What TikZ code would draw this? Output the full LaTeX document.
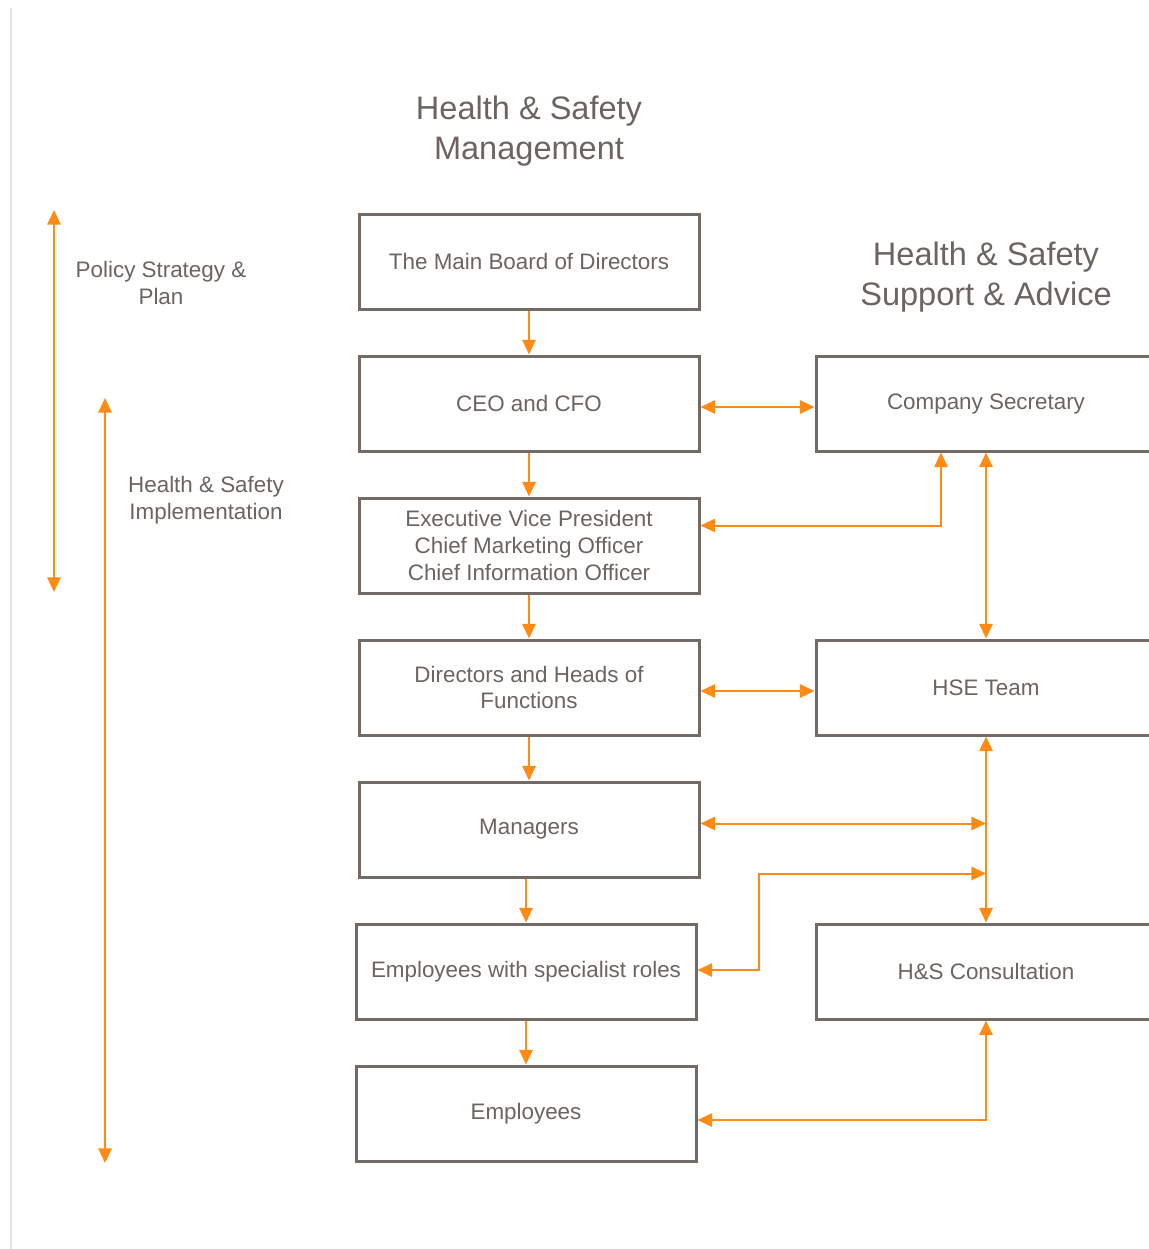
\documentclass[tikz,border=0pt]{standalone}
\usepackage{fontspec}
\setmainfont{Liberation Sans}
\usetikzlibrary{positioning,arrows.meta,calc}

\definecolor{hstext}{HTML}{6B6460}
\definecolor{hsframe}{HTML}{716A65}
\definecolor{hsorange}{HTML}{FF8A14}
\definecolor{hsrule}{HTML}{E4E4E4}

\begin{document}
\begin{tikzpicture}[
  x=0.75pt, y=-0.75pt,
	node distance=33pt and 85.5pt,
	every node/.style={
		text centered,
		text=hstext
	},
	box/.style={
		rectangle,
		draw=hsframe,
		line width=2.25pt,
		minimum height=71.25pt,
		minimum width=255pt,
		align=center,
		inner sep=4pt,
		font=\fontsize{16.8pt}{20pt}\selectfont
	},
	heading/.style={
		align=center,
		font=\fontsize{24.4pt}{30pt}\selectfont
	},
	sidelabel/.style={
		align=center,
		font=\fontsize{16.8pt}{20pt}\selectfont
	},
	link/.style={
		draw=hsorange,
		line width=1.5pt,
		arrows={-Triangle[length=11pt,width=10pt]}
	},
	both/.style={
		link,
		arrows={Triangle[length=11pt,width=10pt]-Triangle[length=11pt,width=10pt]}
	}
]
  \useasboundingbox (0,0) rectangle (1149,1249);
  \draw[hsrule, line width=1.5pt] (11,8) -- (11,1249);

  % management column
  \node (Board) [box] at (529,261.5) {The Main Board of Directors};
  \node (CEO) [box, below=of Board] {CEO and CFO};
  \node (Exec) [box, below=of CEO] {Executive Vice President\\Chief Marketing Officer\\Chief Information Officer};
  \node (Directors) [box, below=of Exec] {Directors and Heads of\\Functions};
  \node (Managers) [box, below=of Directors] {Managers};
  \node (Specialist) [box, below=of Managers, xshift=-2.25pt] {Employees with specialist roles};
  \node (Employees) [box, below=of Specialist] {Employees};

  % support column
  \node (Secretary) [box, right=of CEO] {Company Secretary};
  \node (HSETeam) [box, right=of Directors] {HSE Team};
  \node (Consultation) [box, right=of Managers, yshift=-106.5pt] {H\&S Consultation};

  \node (TitleMgmt) [heading] at (529,131) {Health \& Safety\\Management};
  \node (TitleSupport) [heading] at (986,277) {Health \& Safety\\Support \& Advice};

  % left scale
  \coordinate (PolicyTop) at (54,210);
  \coordinate (PolicyEnd) at (54,592);
  \coordinate (ImplTop) at (105,398);
  \coordinate (ImplEnd) at (105,1163);
  \node (PolicyLabel) [sidelabel] at (161,283) {Policy Strategy \&\\Plan};
  \node (ImplLabel) [sidelabel] at (206,500) {Health \& Safety\\Implementation};
  \draw[both] (PolicyTop) -- (PolicyEnd);
  \draw[both] (ImplTop) -- (ImplEnd);

  \draw[link] (Board) -- (CEO);
  \draw[link] (CEO) -- (Exec);
  \draw[link] (Exec) -- (Directors);
  \draw[link] (Directors) -- (Managers);
  \draw[link] (Managers.south -| Specialist.north) -- (Specialist.north);
  \draw[link] (Specialist) -- (Employees);

  \draw[both] ($(CEO.east)+(0,3.5)$) -- ($(Secretary.west)+(0,3.5)$);
  \draw[both] ($(Exec.east)+(0,-20)$) -| ($(Secretary.south)+(-45,0)$);
  \draw[both] (Secretary) -- (HSETeam);
  \draw[both] ($(Directors.east)+(0,3.5)$) -- ($(HSETeam.west)+(0,3.5)$);
  \draw[both] (HSETeam) -- (Consultation);

  \coordinate (SpecJoin) at ($(HSETeam.south)+(0,137)$);
  \draw[both] ($(Managers.east)+(0,-6)$) coordinate (MgrStart) -- (MgrStart -| HSETeam.south);
  \draw[both] ($(Specialist.east)+(0,-1.5)$) -- ++(61,0) |- (SpecJoin);
  \draw[both] ($(Employees.east)+(0,6.5)$) -| (Consultation.south);
\end{tikzpicture}
\end{document}
